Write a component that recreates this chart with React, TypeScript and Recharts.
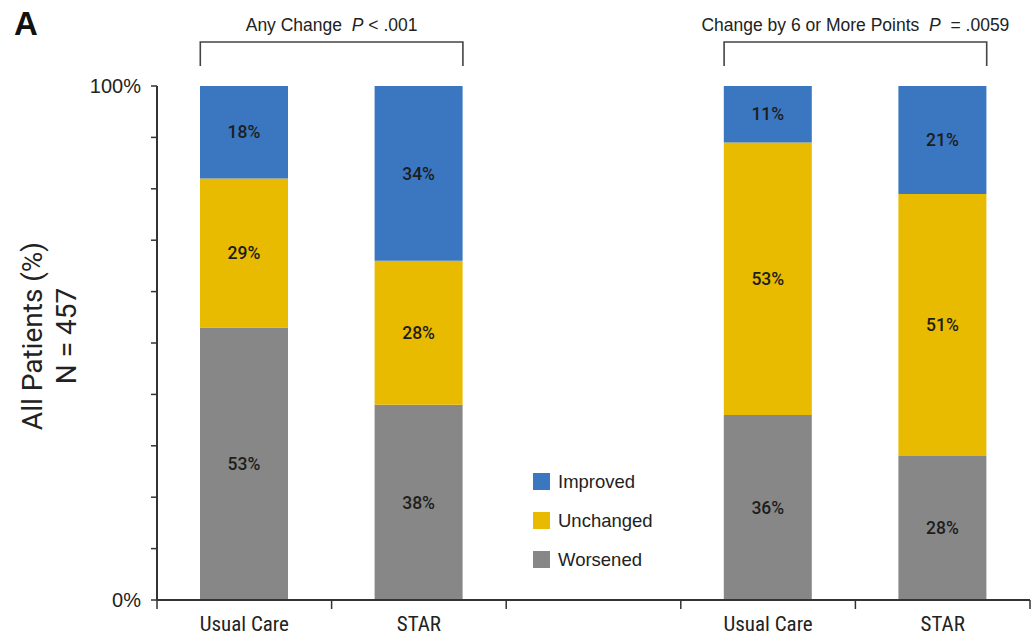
import React from 'react'
import { BarChart, Bar, XAxis, YAxis, LabelList } from 'recharts';

// groups: any change (first pair), change by 6+ points (second pair), blank slot between
const groups = ['Usual Care', 'STAR', '', 'Usual Care', 'STAR'];
const worsened = [53, 38, null, 36, 28];
const unchanged = [29, 28, null, 53, 51];
const improved = [18, 34, null, 11, 21];

const brackets = [
  { text: 'Any Change', p: 'P', stat: ' < .001', from: 0, to: 1 },
  { text: 'Change by 6 or More Points', p: 'P', stat: '  = .0059', from: 3, to: 4 },
];

const yTicks = [0, 10, 20, 30, 40, 50, 60, 70, 80, 90, 100];

const BLUE = '#3a77c0';
const YELLOW = '#e8ba00';
const GRAY = '#878787';
const FONT = 'Roboto, "Liberation Sans", Arial, sans-serif';
const HELV = '"Liberation Sans", Arial, Helvetica, sans-serif';
const NARROW = '"Liberation Sans Narrow", "Roboto Condensed", Roboto, sans-serif';

const W = 1034;
const H = 637;
const Y_W = 157;
const X_H = 37;
const margin = { top: 86, right: 4, bottom: 0, left: 0 };
const BAR = 88;

const data = groups.map((g, i) => ({
  id: i,
  group: g,
  worsened: worsened[i],
  unchanged: unchanged[i],
  improved: improved[i],
}));

const pct = (v: any) => (v == null ? '' : `${v}%`);

const legendItems = [
  { name: 'Improved', color: BLUE },
  { name: 'Unchanged', color: YELLOW },
  { name: 'Worsened', color: GRAY },
];

const LegendBox = () => (
  <div style={{ position: 'absolute', left: 533, top: 462, fontFamily: HELV, fontSize: 18.5, color: '#222' }}>
    {legendItems.map((it) => (
      <div key={it.name} style={{ display: 'flex', alignItems: 'center', height: 39 }}>
        <span style={{ width: 17, height: 17, background: it.color, marginRight: 8, display: 'inline-block' }} />
        {it.name}
      </div>
    ))}
  </div>
);

// category tick: label under the bar plus tick marks at the band edges
const GroupTick = (props: any) => {
  const { x, y, payload, index } = props;
  const half = payload.offset || (W - Y_W - margin.right) / groups.length / 2;
  const label = groups[payload.value] ?? '';
  return (
    <g>
      <line x1={x - half} x2={x - half} y1={y - 8} y2={y + 1} stroke="#333" strokeWidth={1.5} />
      {index === groups.length - 1 && (
        <line x1={x + half} x2={x + half} y1={y - 8} y2={y + 1} stroke="#333" strokeWidth={1.5} />
      )}
      <text x={x} y={y + 23} textAnchor="middle" fontFamily={NARROW} fontSize={21} fill="#222">
        {label}
      </text>
    </g>
  );
};

const yLabel = (v: number) => (v === 0 || v === 100 ? `${v}%` : '');

const Brackets = () => {
  const band = (W - Y_W - margin.right) / groups.length;
  const left = (i: number) => Y_W + band * i + band / 2 - BAR / 2;
  const right = (i: number) => Y_W + band * i + band / 2 + BAR / 2;
  return (
    <svg width={W} height={H} style={{ position: 'absolute', left: 0, top: 0, pointerEvents: 'none' }}>
      <text x={14} y={35} fontFamily={HELV} fontWeight={700} fontSize={33} fill="#111">A</text>
      {brackets.map((b) => {
        const x1 = left(b.from);
        const x2 = right(b.to);
        return (
          <g key={b.text}>
            <path d={`M${x1},66 V42 H${x2} V66`} fill="none" stroke="#444" strokeWidth={1.6} />
            <text x={(x1 + x2) / 2} y={31} textAnchor="middle" fontFamily={HELV} fontSize={17.5} fill="#222" style={{ whiteSpace: 'pre' }}>
              {b.text}{'  '}
              <tspan fontStyle="italic">{b.p}</tspan>
              <tspan>{b.stat}</tspan>
            </text>
          </g>
        );
      })}
      <g transform="translate(42 336) rotate(-90)">
        <text x={0} y={0} textAnchor="middle" fontFamily={FONT} fontSize={28} fill="#222">All Patients (%)</text>
        <text x={0} y={34} textAnchor="middle" fontFamily={FONT} fontSize={28} fill="#222">N = 457</text>
      </g>
    </svg>
  );
};

const App = () => {
  return (
    <div style={{ position: 'absolute', left: 0, top: 0, width: W, height: H, background: '#fff' }}>
      <BarChart width={W} height={H} data={data} margin={margin} barSize={BAR}>
        <XAxis
          dataKey="id"
          type="category"
          interval={0}
          axisLine={{ stroke: '#333', strokeWidth: 2 }}
          tickLine={false}
          tick={<GroupTick />}
          height={X_H}
        />
        <YAxis
          domain={[0, 100]}
          ticks={yTicks}
          interval={0}
          tickFormatter={yLabel}
          axisLine={{ stroke: '#333', strokeWidth: 2 }}
          tickLine={{ stroke: '#333', strokeWidth: 1.5 }}
          tickSize={6}
          tickMargin={10}
          tick={{ fontFamily: HELV, fontSize: 20, fill: '#222' }}
          width={Y_W}
        />
        <Bar dataKey="worsened" name="Worsened" stackId="a" fill={GRAY} isAnimationActive={false}>
          <LabelList dataKey="worsened" position="center" formatter={pct} fontFamily={FONT} fontWeight={500} fontSize={17.5} fill="#1d1d1d" />
        </Bar>
        <Bar dataKey="unchanged" name="Unchanged" stackId="a" fill={YELLOW} isAnimationActive={false}>
          <LabelList dataKey="unchanged" position="center" formatter={pct} fontFamily={FONT} fontWeight={500} fontSize={17.5} fill="#1d1d1d" />
        </Bar>
        <Bar dataKey="improved" name="Improved" stackId="a" fill={BLUE} isAnimationActive={false}>
          <LabelList dataKey="improved" position="center" formatter={pct} fontFamily={FONT} fontWeight={500} fontSize={17.5} fill="#1d1d1d" />
        </Bar>
      </BarChart>
      <LegendBox />
      <Brackets />
    </div>
  );
}

export default App
